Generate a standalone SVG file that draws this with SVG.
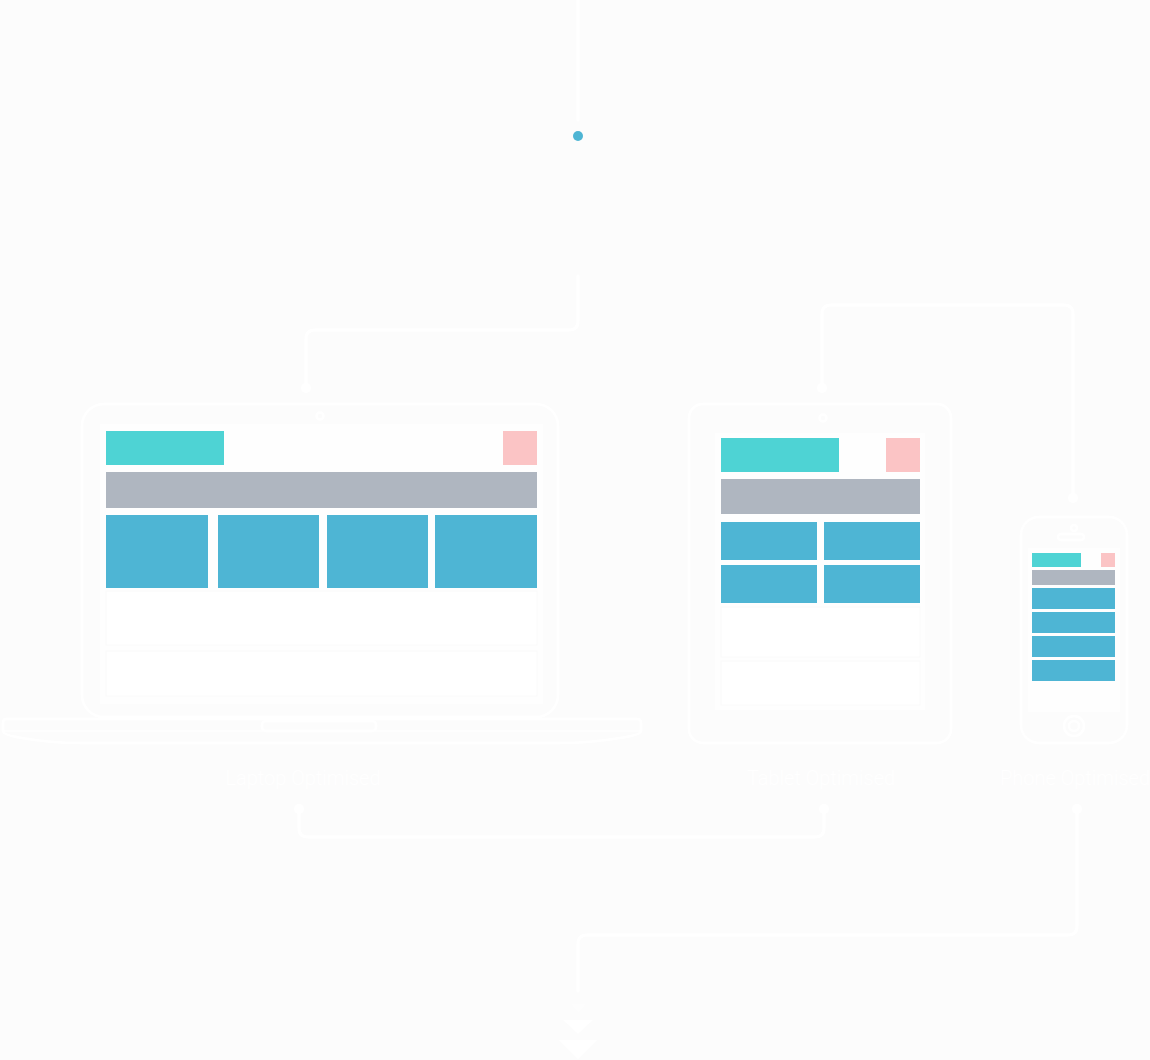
<svg xmlns="http://www.w3.org/2000/svg" width="1150" height="1060" viewBox="0 0 1150 1060">
<style>
.dev{fill:none;stroke:#ffffff;stroke-width:2.5}
.scr{fill:#fefefe}
.row{fill:#ffffff;stroke:#fafafa;stroke-width:1}
.teal{fill:#4ed3d4}
.pink{fill:#fbc4c5}
.gray{fill:#afb6c0}
.blue{fill:#4eb5d4}
.wire{fill:none;stroke:#ffffff;stroke-width:3;stroke-linecap:round;stroke-linejoin:round}
.dot{fill:#ffffff}
.lbl{font-family:Roboto,"Liberation Sans",sans-serif;font-weight:300;font-size:20px;fill:#ffffff;text-anchor:middle}
</style>
<rect width="1150" height="1060" fill="#fcfcfc"/>

<g id="connectors">
  <line class="wire" x1="578" y1="0" x2="578" y2="120"/>
  <circle cx="578" cy="136" r="5" fill="#4eb5d4"/>
  <path class="wire" d="M578,276 V321 Q578,330 569,330 H315 Q306,330 306,339 V388"/>
  <circle class="dot" cx="306" cy="388" r="5"/>
  <path class="wire" d="M822,388 V314 Q822,305 831,305 H1064 Q1073,305 1073,314 V498"/>
  <circle class="dot" cx="822" cy="388" r="5"/>
  <circle class="dot" cx="1073" cy="498" r="5"/>
  <path class="wire" d="M299,809 V828 Q299,837 308,837 H815 Q824,837 824,828 V809"/>
  <circle class="dot" cx="299" cy="809" r="5"/>
  <circle class="dot" cx="824" cy="809" r="5"/>
  <path class="wire" d="M1077,809 V926 Q1077,935 1068,935 H587 Q578,935 578,944 V991"/>
  <circle class="dot" cx="1077" cy="809" r="5"/>
  <polygon points="571,1004 586,1004 578.5,1012" fill="#ffffff" opacity="0.4"/>
  <polygon points="563,1020 593,1020 578,1034" fill="#ffffff" opacity="0.8"/>
  <polygon points="559,1040 597,1040 578,1059" fill="#ffffff"/>
</g>

<g id="laptop">
  <rect class="dev" x="82" y="404" width="476" height="313" rx="22"/>
  <circle class="dev" cx="320" cy="416" r="3.5"/>
  <rect class="scr" x="100" y="424" width="443" height="280"/>
  <rect class="teal" x="106" y="431" width="118" height="34"/>
  <rect class="pink" x="503" y="431" width="34" height="34"/>
  <rect class="gray" x="106" y="472" width="431" height="36"/>
  <rect class="blue" x="106" y="515" width="102" height="73"/>
  <rect class="blue" x="218" y="515" width="101" height="73"/>
  <rect class="blue" x="327" y="515" width="101" height="73"/>
  <rect class="blue" x="435" y="515" width="102" height="73"/>
  <rect class="row" x="106" y="591" width="431" height="54"/>
  <rect class="row" x="106" y="651" width="431" height="45"/>
  <path class="dev" d="M6,719 H637 Q641,719 641,723 V731 Q641,735 620,738 Q590,743 560,743 H80 Q50,743 22,738 Q3,735 3,731 V723 Q3,719 6,719 Z"/>
  <line x1="3" y1="731" x2="641" y2="731" stroke="#ffffff" stroke-width="1.5"/>
  <rect class="dev" x="262" y="721" width="114" height="10" rx="4"/>
  <text class="lbl" x="303" y="785">Laptop Optimised</text>
</g>

<g id="tablet">
  <rect class="dev" x="689" y="404" width="262" height="339" rx="14"/>
  <circle class="dev" cx="823" cy="418" r="3.5"/>
  <rect class="scr" x="715" y="433" width="210" height="277"/>
  <rect class="teal" x="721" y="438" width="118" height="34"/>
  <rect class="pink" x="886" y="438" width="34" height="34"/>
  <rect class="gray" x="721" y="479" width="199" height="35"/>
  <rect class="blue" x="721" y="522" width="96" height="38"/>
  <rect class="blue" x="824" y="522" width="96" height="38"/>
  <rect class="blue" x="721" y="565" width="96" height="38"/>
  <rect class="blue" x="824" y="565" width="96" height="38"/>
  <rect class="row" x="721" y="607" width="199" height="50"/>
  <rect class="row" x="721" y="661" width="199" height="44"/>
  <text class="lbl" x="821" y="785">Tablet Optimised</text>
</g>

<g id="phone">
  <rect class="dev" x="1021" y="517" width="106" height="226" rx="18"/>
  <circle class="dev" cx="1074" cy="528" r="3"/>
  <rect class="dev" x="1058" y="534" width="26" height="6" rx="3"/>
  <rect class="scr" x="1028" y="548" width="92" height="164"/>
  <rect class="teal" x="1032" y="553" width="49" height="14"/>
  <rect class="pink" x="1101" y="553" width="14" height="14"/>
  <rect class="gray" x="1032" y="570" width="83" height="15"/>
  <rect class="blue" x="1032" y="588" width="83" height="21"/>
  <rect class="blue" x="1032" y="612" width="83" height="21"/>
  <rect class="blue" x="1032" y="636" width="83" height="21"/>
  <rect class="blue" x="1032" y="660" width="83" height="21"/>
  <circle class="dev" cx="1074" cy="726" r="10"/>
  <circle class="dev" cx="1074" cy="726" r="5"/>
  <text class="lbl" x="1075" y="785">Phone Optimised</text>
</g>
</svg>
